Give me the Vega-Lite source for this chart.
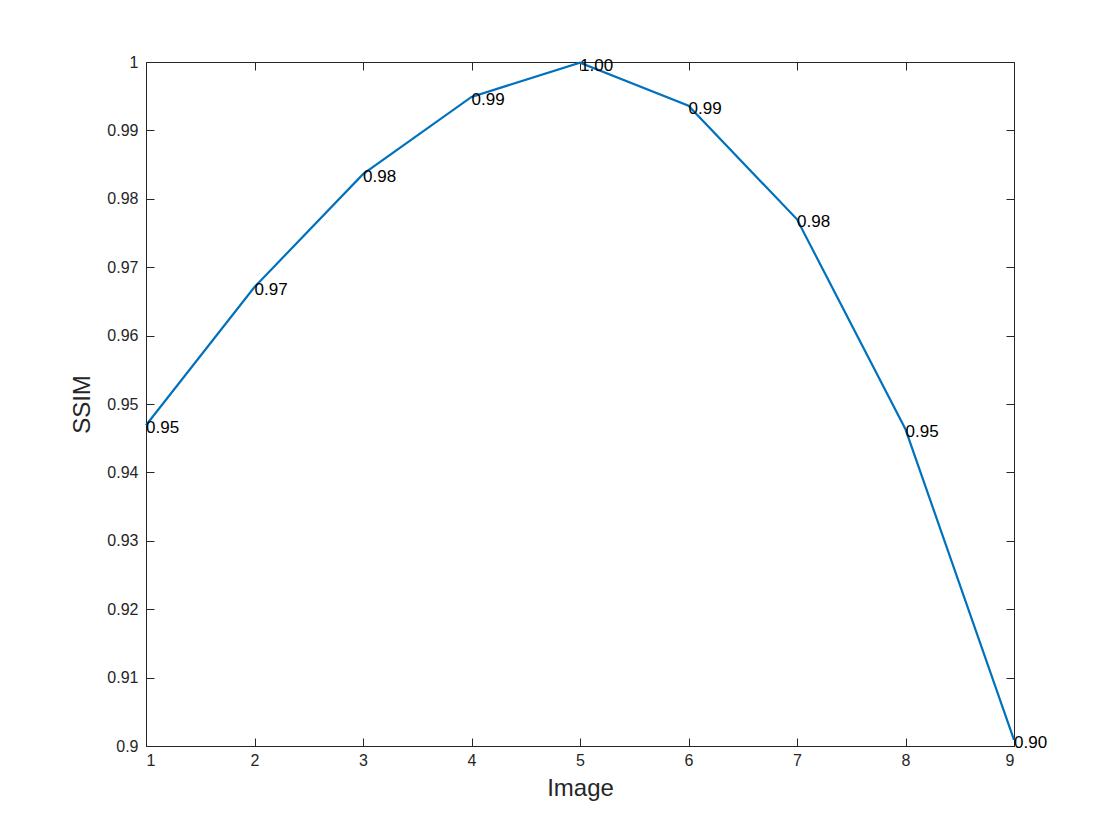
{
  "$schema": "https://vega.github.io/schema/vega-lite/v6.json",
  "width": 868,
  "height": 684,
  "autosize": "none",
  "padding": {"left": 146, "top": 62, "right": 106, "bottom": 94},
  "background": "white",
  "config": {
    "view": {"stroke": "#262626", "strokeWidth": 1},
    "axis": {
      "grid": false,
      "domain": false,
      "tickColor": "#262626",
      "tickSize": -8,
      "labelFont": "Liberation Sans",
      "labelFontSize": 16,
      "labelColor": "#262626",
      "titleFont": "Liberation Sans",
      "titleFontSize": 24,
      "titleFontWeight": "normal",
      "titleColor": "#262626"
    }
  },
  "data": {
    "values": [
      {"image": 1, "ssim": 0.9469},
      {"image": 2, "ssim": 0.9671},
      {"image": 3, "ssim": 0.9836},
      {"image": 4, "ssim": 0.9949},
      {"image": 5, "ssim": 0.9999},
      {"image": 6, "ssim": 0.9936},
      {"image": 7, "ssim": 0.977},
      {"image": 8, "ssim": 0.9463},
      {"image": 9, "ssim": 0.9009}
    ]
  },
  "layer": [
    {
      "mark": {"type": "line", "color": "#0072BD", "strokeWidth": 2.2},
      "encoding": {
        "x": {"field": "image", "type": "quantitative", "title": "Image",
              "scale": {"domain": [1, 9], "nice": false},
              "axis": {"values": [1,2,3,4,5,6,7,8,9], "labelPadding": 14, "titlePadding": 8}},
        "y": {"field": "ssim", "type": "quantitative", "title": "SSIM",
              "scale": {"domain": [0.9, 1], "nice": false, "zero": false},
              "axis": {"values": [0.9,0.91,0.92,0.93,0.94,0.95,0.96,0.97,0.98,0.99,1], "format": ".2~f", "labelPadding": 16, "titlePadding": 12}}
      }
    },
    {
      "mark": {"type": "text", "align": "left", "baseline": "middle", "dy": 3, "font": "Liberation Sans", "fontSize": 17, "color": "black"},
      "encoding": {
        "x": {"field": "image", "type": "quantitative", "axis": null},
        "y": {"field": "ssim", "type": "quantitative", "axis": null},
        "text": {"field": "ssim", "type": "quantitative", "format": ".2f"}
      }
    },
    {
      "mark": {"type": "point", "opacity": 0},
      "encoding": {
        "x": {"field": "image", "type": "quantitative", "scale": {"domain": [1, 9], "nice": false},
              "axis": {"orient": "top", "values": [1,2,3,4,5,6,7,8,9], "labels": false, "title": null}},
        "y": {"field": "ssim", "type": "quantitative", "scale": {"domain": [0.9, 1], "nice": false, "zero": false},
              "axis": {"orient": "right", "values": [0.9,0.91,0.92,0.93,0.94,0.95,0.96,0.97,0.98,0.99,1], "labels": false, "title": null}}
      }
    }
  ],
  "resolve": {"axis": {"x": "independent", "y": "independent"}}
}
